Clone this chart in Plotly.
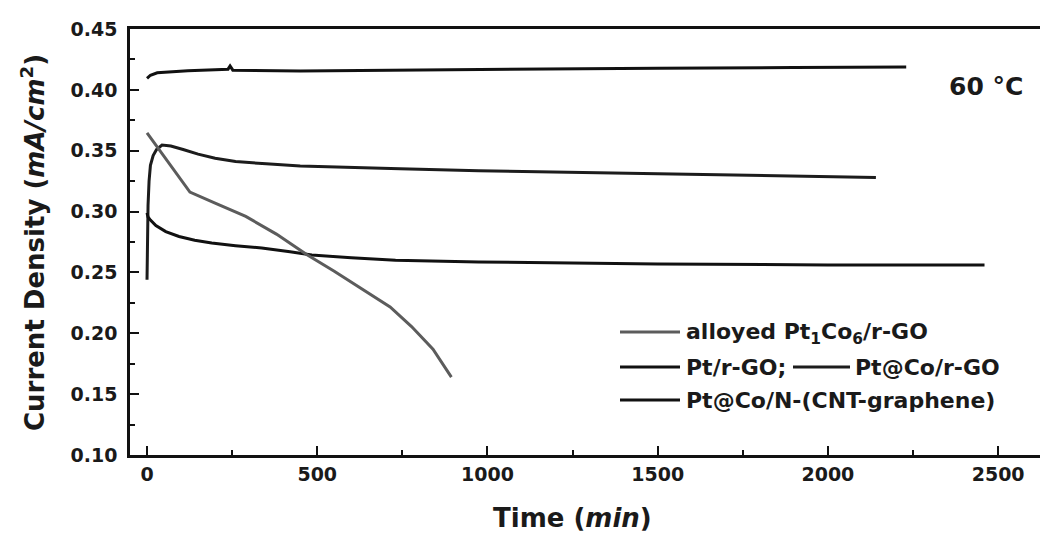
import plotly.graph_objects as go

# Chronoamperometry at 60 °C: current density vs. time for four catalysts
t_cnt = [0, 10, 30, 60, 120, 200, 238, 244, 252, 450, 743, 1100, 1500, 1900, 2230]
j_cnt = [0.4095, 0.412, 0.414, 0.4147, 0.4158, 0.4165, 0.417, 0.4196, 0.4162, 0.4155, 0.4163, 0.417, 0.4178, 0.4183, 0.4188]

t_ptco = [0, 1, 3, 6, 10, 18, 28, 44, 70, 106, 150, 200, 260, 350, 450, 743, 974, 1500, 2000, 2141]
j_ptco = [0.244, 0.275, 0.305, 0.325, 0.338, 0.346, 0.351, 0.3547, 0.3538, 0.351, 0.3472, 0.3438, 0.3412, 0.3392, 0.3375, 0.3352, 0.3336, 0.331, 0.3290, 0.328]

t_alloy = [0, 60, 126, 200, 290, 380, 470, 550, 631, 714, 777, 840, 894]
j_alloy = [0.3646, 0.341, 0.316, 0.307, 0.296, 0.2815, 0.2645, 0.251, 0.2362, 0.2216, 0.2055, 0.187, 0.164]

t_pt = [0, 3, 10, 26, 55, 94, 140, 190, 260, 337, 420, 484, 600, 730, 974, 1250, 1500, 2000, 2460]
j_pt = [0.299, 0.2955, 0.293, 0.2885, 0.2835, 0.2795, 0.2765, 0.2742, 0.272, 0.270, 0.267, 0.2643, 0.262, 0.260, 0.2586, 0.2575, 0.257, 0.2562, 0.2561]

x_ticks = [0, 500, 1000, 1500, 2000, 2500]
y_ticks = [0.10, 0.15, 0.20, 0.25, 0.30, 0.35, 0.40, 0.45]

W, H = 1040, 536
L, R, T, B = 130, 0, 29, 81
PW, PH = W - L - R, H - T - B

BLACK = "#111111"
GRAY = "#5c5c5c"
FONT = "DejaVu Sans"


def px(x):
    return (x - L) / PW


def py(y):
    return (H - B - y) / PH


fig = go.Figure()
fig.add_trace(go.Scatter(x=t_cnt, y=j_cnt, mode="lines",
                         line=dict(color=BLACK, width=3), name="Pt@Co/N-(CNT-graphene)"))
fig.add_trace(go.Scatter(x=t_ptco, y=j_ptco, mode="lines",
                         line=dict(color="#1c1c1c", width=3), name="Pt@Co/r-GO"))
fig.add_trace(go.Scatter(x=t_pt, y=j_pt, mode="lines",
                         line=dict(color=BLACK, width=3), name="Pt/r-GO"))
fig.add_trace(go.Scatter(x=t_alloy, y=j_alloy, mode="lines",
                         line=dict(color=GRAY, width=3), name="alloyed Pt1Co6/r-GO"))

tickfont = dict(family=FONT, size=19, color="#1a1a1a", weight="bold")

fig.update_xaxes(
    range=[-50, 2623], tickvals=x_ticks, ticktext=[str(v) for v in x_ticks],
    ticks="inside", ticklen=9, tickwidth=2, tickcolor=BLACK,
    minor=dict(ticks="inside", ticklen=5, tickwidth=2, tickcolor=BLACK, dtick=250),
    showline=True, linecolor=BLACK, linewidth=2.5, mirror=True,
    showgrid=False, zeroline=False, tickfont=tickfont, ticklabelstandoff=0,
)
fig.update_yaxes(
    range=[0.10, 0.45], tickvals=y_ticks, ticktext=[f"{v:.2f}" for v in y_ticks],
    ticks="inside", ticklen=9, tickwidth=2, tickcolor=BLACK,
    minor=dict(ticks="inside", ticklen=5, tickwidth=2, tickcolor=BLACK, dtick=0.025),
    showline=True, linecolor=BLACK, linewidth=2.5,
    showgrid=False, zeroline=False, tickfont=tickfont, ticklabelstandoff=6,
)

titlefont = dict(family=FONT, size=26, color="#1a1a1a", weight="bold")
legfont = dict(family=FONT, size=22, color="#1a1a1a", weight="bold")

annotations = [
    dict(text="Time (<i>min</i>)", x=px(572), y=py(518), xref="paper", yref="paper",
         showarrow=False, font=titlefont, xanchor="center", yanchor="middle"),
    dict(text="Current Density (<i>mA/cm</i><sup>2</sup>)", x=px(33), y=py(243),
         xref="paper", yref="paper", textangle=-90, showarrow=False, font=titlefont,
         xanchor="center", yanchor="middle"),
    dict(text="60 °C", x=px(986), y=py(86), xref="paper", yref="paper",
         showarrow=False, font=dict(family=FONT, size=25, color="#1a1a1a", weight="bold"),
         xanchor="center", yanchor="middle"),
    dict(text="alloyed Pt<sub>1</sub>Co<sub>6</sub>/r-GO", x=px(684), y=py(333),
         xref="paper", yref="paper", showarrow=False, font=legfont,
         xanchor="left", yanchor="middle"),
    dict(text="Pt/r-GO;", x=px(684), y=py(367), xref="paper", yref="paper",
         showarrow=False, font=legfont, xanchor="left", yanchor="middle"),
    dict(text="Pt@Co/r-GO", x=px(853), y=py(367), xref="paper", yref="paper",
         showarrow=False, font=legfont, xanchor="left", yanchor="middle"),
    dict(text="Pt@Co/N-(CNT-graphene)", x=px(684), y=py(400), xref="paper", yref="paper",
         showarrow=False, font=legfont, xanchor="left", yanchor="middle"),
]

legend_lines = [
    (620, 680, 332, GRAY),
    (620, 680, 367, BLACK),
    (793, 850, 367, "#1c1c1c"),
    (620, 680, 400, BLACK),
]
shapes = [
    dict(type="line", xref="paper", yref="paper", x0=px(a), x1=px(b), y0=py(y), y1=py(y),
         line=dict(color=c, width=3))
    for a, b, y, c in legend_lines
]

fig.update_layout(
    width=W, height=H, margin=dict(l=L, r=R, t=T, b=B),
    paper_bgcolor="white", plot_bgcolor="white", showlegend=False,
    annotations=annotations, shapes=shapes,
)

fig.write_html("out.html")
